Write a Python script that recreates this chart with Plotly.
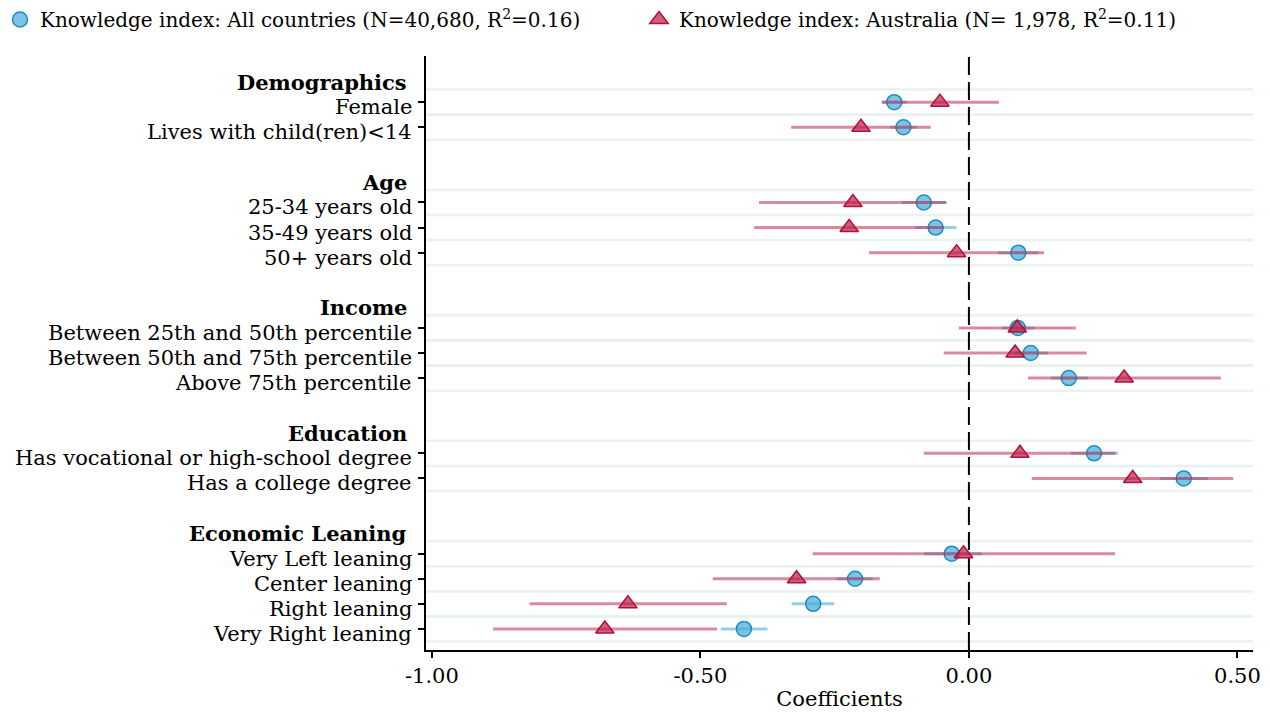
import plotly.graph_objects as go

# ---------------- data ----------------
group_headers = ["Demographics", "Age", "Income", "Education", "Economic Leaning"]
group_items = [
    ["Female", "Lives with child(ren)<14"],
    ["25-34 years old", "35-49 years old", "50+ years old"],
    ["Between 25th and 50th percentile", "Between 50th and 75th percentile", "Above 75th percentile"],
    ["Has vocational or high-school degree", "Has a college degree"],
    ["Very Left leaning", "Center leaning", "Right leaning", "Very Right leaning"],
]

all_est = [-0.139, -0.122, -0.084, -0.062, 0.092, 0.091, 0.115, 0.186, 0.233, 0.400, -0.032, -0.212, -0.290, -0.419]
all_lo = [-0.162, -0.147, -0.125, -0.100, 0.054, 0.061, 0.084, 0.153, 0.190, 0.356, -0.084, -0.246, -0.330, -0.462]
all_hi = [-0.115, -0.097, -0.041, -0.023, 0.129, 0.123, 0.147, 0.222, 0.278, 0.445, 0.024, -0.179, -0.251, -0.375]

au_est = [-0.054, -0.201, -0.216, -0.223, -0.023, 0.090, 0.086, 0.289, 0.095, 0.305, -0.010, -0.321, -0.635, -0.678]
au_lo = [-0.162, -0.331, -0.391, -0.400, -0.186, -0.019, -0.047, 0.110, -0.084, 0.117, -0.291, -0.477, -0.818, -0.886]
au_hi = [0.056, -0.071, -0.043, -0.047, 0.140, 0.199, 0.219, 0.469, 0.273, 0.492, 0.272, -0.166, -0.451, -0.469]

x_tickvals = [-1.0, -0.5, 0.0, 0.5]
x_ticktext = ["-1.00", "-0.50", "0.00", "0.50"]

name_all = "Knowledge index: All countries (N=40,680, R<sup>2</sup>=0.16)"
name_au = "Knowledge index: Australia (N= 1,978, R<sup>2</sup>=0.11)"

# ---------------- row layout ----------------
header_pos = []
item_pos = []
item_labels = []
row = 0
for h, items in zip(group_headers, group_items):
    header_pos.append(row)
    row += 1
    for it in items:
        item_pos.append(row)
        item_labels.append(it)
        row += 1
    row += 1  # blank spacer row
last_row = item_pos[-1]

FONT = "DejaVu Serif"
FS = 21
BLUE_LINE = "rgba(60,170,215,0.55)"
BLUE_FILL = "rgba(70,170,215,0.7)"
BLUE_EDGE = "#1a8fc4"
RED_LINE = "rgba(190,40,80,0.55)"
RED_FILL = "rgba(185,30,70,0.7)"
RED_EDGE = "#b0103a"

fig = go.Figure()

fig.add_trace(go.Scatter(
    x=all_est, y=item_pos, mode="markers", name=name_all, legend="legend",
    marker=dict(symbol="circle", size=15, color=BLUE_FILL, line=dict(color=BLUE_EDGE, width=1.5)),
    error_x=dict(type="data", symmetric=False,
                 array=[h - e for h, e in zip(all_hi, all_est)],
                 arrayminus=[e - l for e, l in zip(all_est, all_lo)],
                 color=BLUE_LINE, thickness=3, width=0),
))
fig.add_trace(go.Scatter(
    x=au_est, y=item_pos, mode="markers", name=name_au, legend="legend2",
    marker=dict(symbol="triangle-up", size=16, color=RED_FILL, line=dict(color=RED_EDGE, width=1.5)),
    error_x=dict(type="data", symmetric=False,
                 array=[h - e for h, e in zip(au_hi, au_est)],
                 arrayminus=[e - l for e, l in zip(au_est, au_lo)],
                 color=RED_LINE, thickness=3, width=0),
))

shapes = []
for p in item_pos:
    for off in (-0.5, 0.5):
        shapes.append(dict(type="line", xref="paper", x0=0, x1=1, yref="y", y0=p + off, y1=p + off,
                           line=dict(color="#e9f1f1", width=2.5), layer="below"))
shapes.append(dict(type="line", xref="x", x0=0, x1=0, yref="paper", y0=0, y1=1,
                   line=dict(color="black", width=2, dash="18px,7px"), layer="below"))

annotations = []
for p, lab in zip(item_pos, item_labels):
    annotations.append(dict(xref="paper", x=0, xanchor="right", xshift=-12, yref="y", y=p, yanchor="middle",
                            yshift=-5, text=lab, showarrow=False, font=dict(family=FONT, size=FS, color="black")))
for p, lab in zip(header_pos, group_headers):
    annotations.append(dict(xref="paper", x=0, xanchor="right", xshift=-17, yref="y", y=p, yanchor="middle",
                            yshift=-5, text="<b>" + lab + "</b>", showarrow=False,
                            font=dict(family=FONT, size=FS, color="black")))

legend_common = dict(orientation="h", xref="container", yref="container", y=1.0, yanchor="top",
                     xanchor="left", font=dict(family=FONT, size=20, color="black"),
                     itemsizing="trace", bgcolor="rgba(0,0,0,0)")

fig.update_layout(
    width=1270, height=721,
    margin=dict(l=426, r=17, t=56, b=71, autoexpand=False),
    plot_bgcolor="white", paper_bgcolor="white",
    font=dict(family=FONT, size=FS, color="black"),
    showlegend=True,
    legend=dict(x=0.0, **legend_common),
    legend2=dict(x=639 / 1270, **legend_common),
    shapes=shapes, annotations=annotations,
    xaxis=dict(range=[-1.011, 0.529], tickvals=x_tickvals, ticktext=x_ticktext, showgrid=False, zeroline=False,
               showline=True, linecolor="black", linewidth=1.5, ticks="outside", ticklen=6, tickwidth=1.5,
               tickcolor="black", tickfont=dict(family=FONT, size=FS),
               title=dict(text="Coefficients", font=dict(family=FONT, size=FS), standoff=4)),
    yaxis=dict(range=[last_row + 0.84, -0.84], tickvals=item_pos, showticklabels=False, showgrid=False,
               zeroline=False, showline=True, linecolor="black", linewidth=1.5, ticks="outside", ticklen=6,
               tickwidth=1.5, tickcolor="black"),
)

fig.write_html("out.html")
